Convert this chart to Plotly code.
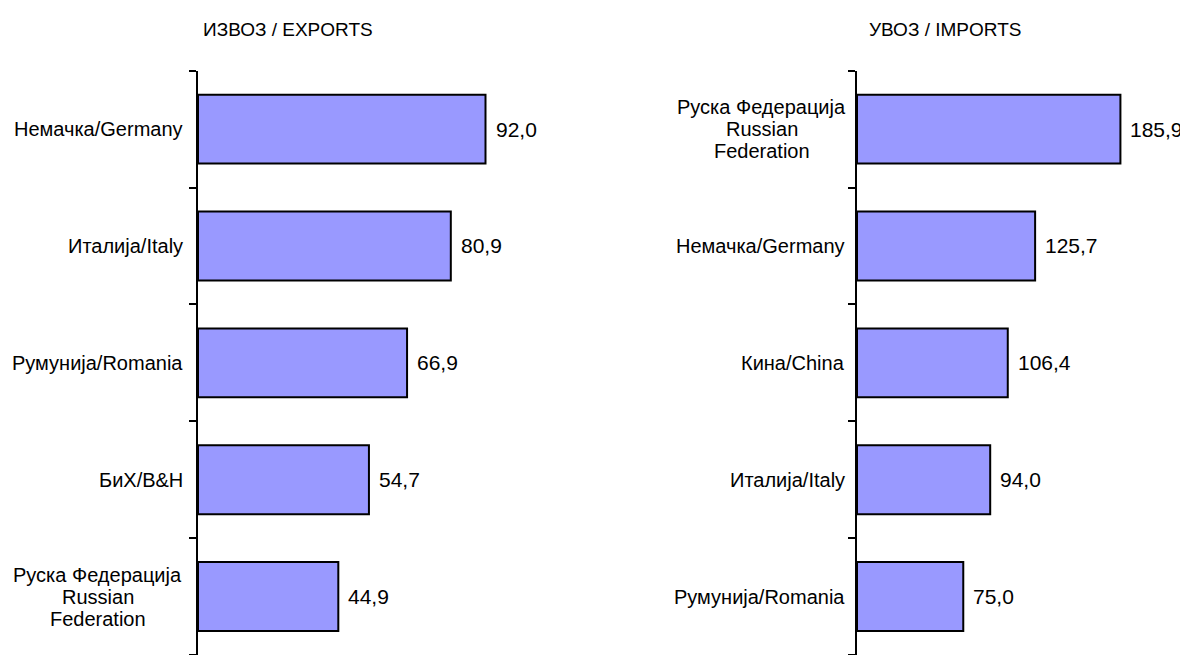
import plotly.graph_objects as go

export_countries = ["Немачка/Germany", "Италија/Italy", "Румунија/Romania", "БиХ/B&H",
                    "Руска Федерација<br>Russian<br>Federation"]
export_values = [92.0, 80.9, 66.9, 54.7, 44.9]

import_countries = ["Руска Федерација<br>Russian<br>Federation", "Немачка/Germany", "Кина/China",
                    "Италија/Italy", "Румунија/Romania"]
import_values = [185.9, 125.7, 106.4, 94.0, 75.0]

titles = ["ИЗВОЗ / EXPORTS", "УВОЗ / IMPORTS"]

OFF = 8  # page body margin
W, H = 1188 - OFF, 655 - OFF
FONT = "Liberation Sans, Arial, sans-serif"
BAR_COLOR = "#9999FF"
LABEL_SIZE = 20
LINE_H = 22

fig = go.Figure()

panels = [
    dict(cats=export_countries, vals=export_values, xa="x", ya="y", ax=198, scale=3.125,
         title_x=288, label_gap=13, multi_center=100.5),
    dict(cats=import_countries, vals=import_values, xa="x2", ya="y2", ax=857, scale=1.417,
         title_x=945, label_gap=10, multi_center=95.5),
]

annotations = []
top = 70.7 - OFF
y_dom = [0, (H - top) / H]
for i, p in enumerate(panels):
    px0 = p["ax"] - OFF
    px1 = min(px0 + 330, W)
    xmax = (px1 - px0) / p["scale"]
    idx = list(range(len(p["cats"])))
    fig.add_trace(go.Bar(
        x=p["vals"], y=idx, orientation="h", xaxis=p["xa"], yaxis=p["ya"],
        marker=dict(color=BAR_COLOR, line=dict(color="black", width=2)),
        width=0.59, showlegend=False, hoverinfo="skip",
    ))
    suffix = "" if i == 0 else "2"
    fig.update_layout(**{
        "xaxis" + suffix: dict(domain=[px0 / W, px1 / W], range=[0, xmax],
                               visible=False, anchor="y" + suffix),
        "yaxis" + suffix: dict(domain=y_dom, range=[len(idx) - 0.5, -0.5], anchor="x" + suffix,
                               showline=True, linecolor="black", linewidth=2,
                               tickmode="array", tickvals=[k - 0.5 for k in range(len(idx) + 1)],
                               ticktext=[""] * (len(idx) + 1),
                               ticks="outside", ticklen=7, tickwidth=2, tickcolor="black",
                               showgrid=False, zeroline=False),
    })
    for k, (c, v) in enumerate(zip(p["cats"], p["vals"])):
        lines = c.split("<br>")
        n = len(lines)
        for j, line in enumerate(lines):
            if n == 1:
                ax_x, anchor = (px0 - p["label_gap"]) / W, "right"
            else:
                ax_x, anchor = (px0 - p["multi_center"]) / W, "center"
            annotations.append(dict(
                x=ax_x, xref="paper", y=k, yref=p["ya"],
                text=line, showarrow=False, xanchor=anchor,
                yanchor="middle", yshift=-(j - (n - 1) / 2) * LINE_H,
                font=dict(family=FONT, size=LABEL_SIZE, color="black"),
            ))
        annotations.append(dict(
            x=v, xref=p["xa"], y=k, yref=p["ya"],
            text=f"{v:.1f}".replace(".", ","), showarrow=False, xanchor="left", yanchor="middle",
            xshift=8, font=dict(family=FONT, size=21, color="black"),
        ))
    annotations.append(dict(
        x=(p["title_x"] - OFF) / W, xref="paper", y=1 - (30 - OFF) / H, yref="paper",
        text=titles[i], showarrow=False, xanchor="center", yanchor="middle",
        font=dict(family=FONT, size=19, color="black"),
    ))

fig.update_layout(
    width=W, height=H, margin=dict(l=0, r=0, t=0, b=0),
    paper_bgcolor="white", plot_bgcolor="white",
    annotations=annotations, font=dict(family=FONT),
)

fig.write_html("out.html")
